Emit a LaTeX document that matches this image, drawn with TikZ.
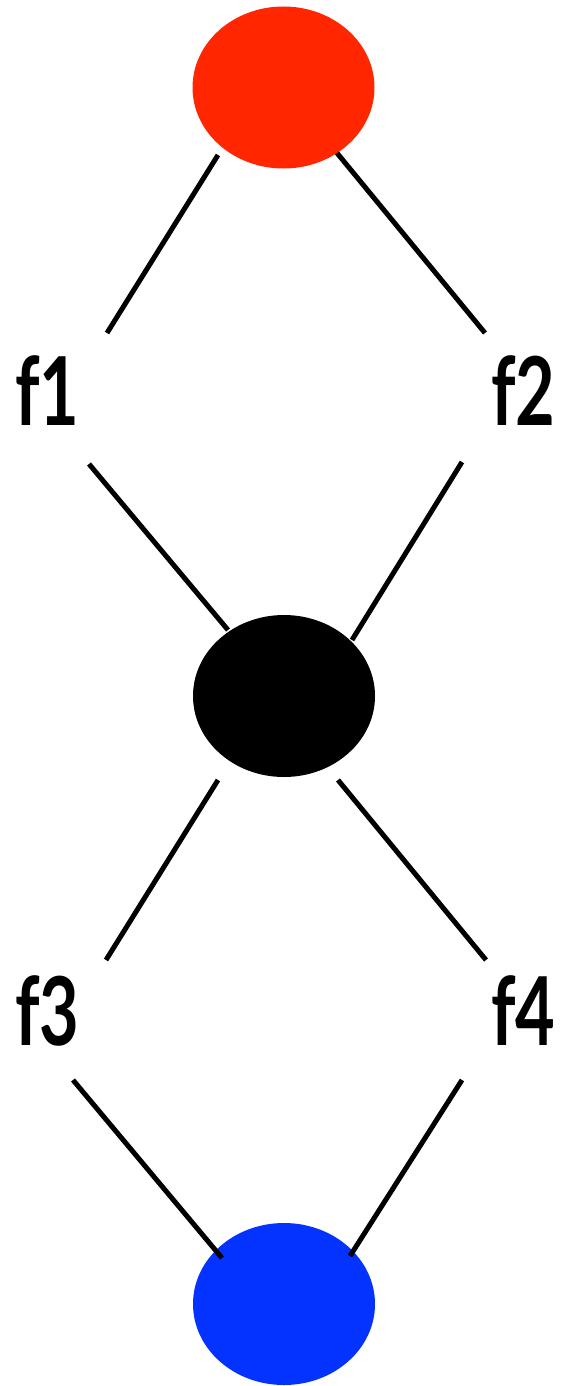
\documentclass[tikz,border=0pt]{standalone}
\usepackage{fontspec}
\setmainfont{Lato}
\usetikzlibrary{shapes.geometric}
\definecolor{kred}{HTML}{FF2600}
\definecolor{kblue}{HTML}{0433FF}
\begin{document}
\begin{tikzpicture}[x=1pt,y=-1pt,
  dot/.style={ellipse, minimum width=182pt, minimum height=162pt, inner sep=0pt},
  lbl/.style={anchor=base west, inner sep=0pt, xscale=0.72, font=\bfseries\fontsize{95}{95}\selectfont},
  link/.style={line width=5pt, black}]
\useasboundingbox (0,0) rectangle (561,1386);
\node[dot, fill=kred] (red) at (283.5,87.5) {};
\node[dot, fill=black] (blk) at (284,696) {};
\node[dot, fill=kblue] (blu) at (284,1304) {};
\node[lbl] (f1) at (15,425) {f1};
\node[lbl] (f2) at (491,425) {f2};
\node[lbl] (f3) at (15,1045) {f3};
\node[lbl] (f4) at (491,1045) {f4};
\coordinate (r1) at (218,155);   \coordinate (a1) at (107,333);
\coordinate (r2) at (337,153);   \coordinate (a2) at (485,333);
\coordinate (b1) at (89,464);    \coordinate (k1) at (228,630);
\coordinate (b2) at (462,462);   \coordinate (k2) at (352,640);
\coordinate (k3) at (218,780);   \coordinate (c3) at (106,960);
\coordinate (k4) at (338,780);   \coordinate (c4) at (486,960);
\coordinate (d3) at (73,1080);   \coordinate (u3) at (222,1258);
\coordinate (d4) at (462,1080);  \coordinate (u4) at (350,1256);
\draw[link] (r1) -- (a1);
\draw[link] (r2) -- (a2);
\draw[link] (b1) -- (k1);
\draw[link] (b2) -- (k2);
\draw[link] (k3) -- (c3);
\draw[link] (k4) -- (c4);
\draw[link] (d3) -- (u3);
\draw[link] (d4) -- (u4);
\end{tikzpicture}
\end{document}
